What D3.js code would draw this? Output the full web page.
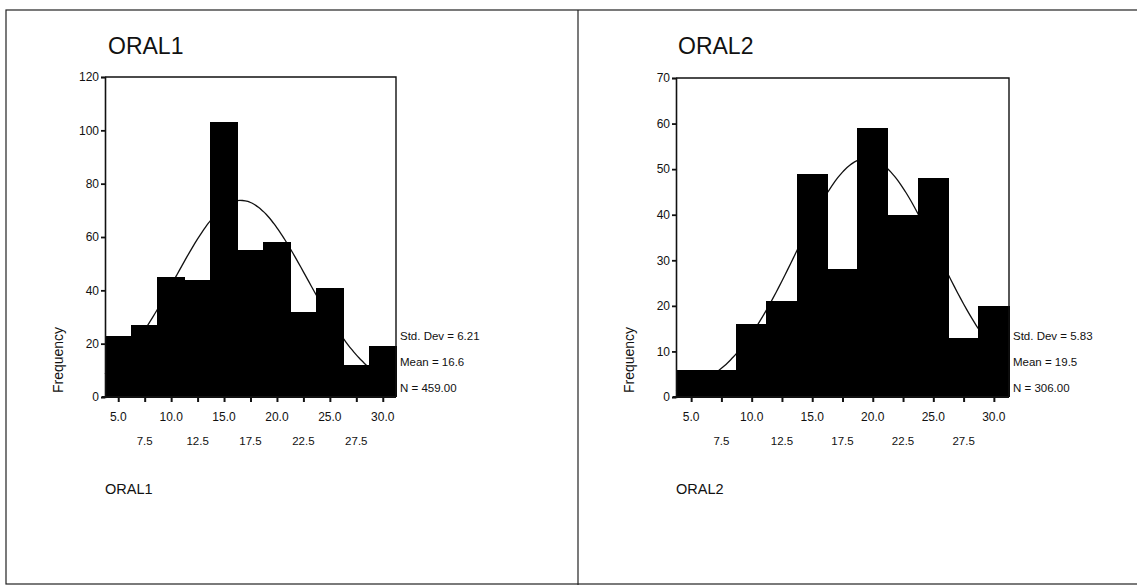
<!DOCTYPE html>
<html>
<head>
<meta charset="utf-8">
<script src="https://cdn.jsdelivr.net/npm/d3@7"></script>
<style>
html,body{margin:0;padding:0;background:#fff;}
svg{display:block;font-family:"Liberation Sans",Arial,sans-serif;}
</style>
</head>
<body>
<svg id="chart" width="1137" height="585"></svg>
<script>
// ---- data ----
const binMids = [5.0, 7.5, 10.0, 12.5, 15.0, 17.5, 20.0, 22.5, 25.0, 27.5, 30.0];
const binWidth = 2.5;
const oral1Counts = [23, 27, 45, 44, 103, 55, 58, 32, 41, 12, 19];
const oral2Counts = [6, 6, 16, 21, 49, 28, 59, 40, 48, 13, 20];
const oral1Stats = {sd: 6.21, mean: 16.6, n: 459};
const oral2Stats = {sd: 5.83, mean: 19.5, n: 306};
const oral1StatText = ["Std. Dev = 6.21", "Mean = 16.6", "N = 459.00"];
const oral2StatText = ["Std. Dev = 5.83", "Mean = 19.5", "N = 306.00"];
const oral1YTicks = [0, 20, 40, 60, 80, 100, 120];
const oral2YTicks = [0, 10, 20, 30, 40, 50, 60, 70];
const xTicksRow1 = [5.0, 10.0, 15.0, 20.0, 25.0, 30.0];
const xTicksRow2 = [7.5, 12.5, 17.5, 22.5, 27.5];
const titles = ["ORAL1", "ORAL2"];

const svg = d3.select("#chart");

// panel frames
svg.append("rect").attr("x", 6).attr("y", 10).attr("width", 1200).attr("height", 574)
  .attr("fill", "none").attr("stroke", "#222").attr("stroke-width", 1.2);
svg.append("line").attr("x1", 578).attr("x2", 578).attr("y1", 10).attr("y2", 585)
  .attr("stroke", "#222").attr("stroke-width", 1.2);

function panel(cfg) {
  const g = svg.append("g");
  const x = d3.scaleLinear().domain([binMids[0] - binWidth / 2, binMids[binMids.length - 1] + binWidth / 2])
    .range([cfg.left, cfg.right]);
  const y = d3.scaleLinear().domain([0, cfg.ymax]).range([cfg.bottom, cfg.top]);

  // title
  g.append("text").attr("x", cfg.titleX).attr("y", 54).attr("font-size", 23)
    .attr("fill", "#111").text(cfg.title);

  // normal curve from displayed stats
  const xs = d3.range(x.domain()[0], x.domain()[1] + 0.001, 0.25);
  const st = cfg.stats;
  const f = v => st.n * binWidth / (st.sd * Math.sqrt(2 * Math.PI)) * Math.exp(-((v - st.mean) ** 2) / (2 * st.sd * st.sd));
  g.append("path").datum(xs)
    .attr("d", d3.line().x(d => x(d)).y(d => y(f(d))).curve(d3.curveMonotoneX))
    .attr("fill", "none").attr("stroke", "#111").attr("stroke-width", 1.3);

  // bars
  g.selectAll("rect.bar").data(binMids).join("rect")
    .attr("x", d => x(d - binWidth / 2) - 0.5)
    .attr("width", d => x(d + binWidth / 2) - x(d - binWidth / 2) + 1)
    .attr("y", (d, i) => y(cfg.counts[i]))
    .attr("height", (d, i) => y(0) - y(cfg.counts[i]))
    .attr("fill", "#000").attr("shape-rendering", "crispEdges");

  // frame top/right
  g.append("path")
    .attr("d", `M${cfg.left},${cfg.top}H${cfg.right}V${cfg.bottom}`)
    .attr("fill", "none").attr("stroke", "#111").attr("stroke-width", 1.4);

  // y axis
  const ya = g.append("g").attr("transform", `translate(${cfg.left},0)`)
    .call(d3.axisLeft(y).tickValues(cfg.yTicks).tickSize(4).tickPadding(2).tickFormat(d3.format("d")));
  ya.select(".domain").attr("stroke", "#111").attr("stroke-width", 1.6);
  ya.selectAll(".tick line").attr("stroke", "#111").attr("stroke-width", 1.8);
  ya.selectAll(".tick text").attr("font-size", 12).attr("fill", "#111")
    .attr("font-family", '"Liberation Sans",Arial,sans-serif');

  // x axis (ticks at all bin mids)
  const xa = g.append("g").attr("transform", `translate(0,${cfg.bottom})`)
    .call(d3.axisBottom(x).tickValues(binMids).tickSize(5).tickFormat(""));
  xa.select(".domain").attr("stroke", "#111").attr("stroke-width", 1.8).attr("d", `M${cfg.left - 3},0H${cfg.right}`);
  xa.selectAll(".tick line").attr("stroke", "#111").attr("stroke-width", 2);

  g.selectAll("text.r1").data(xTicksRow1).join("text")
    .attr("x", d => x(d)).attr("y", cfg.bottom + 24).attr("text-anchor", "middle")
    .attr("font-size", 12).attr("fill", "#111").text(d => d3.format(".1f")(d));
  g.selectAll("text.r2").data(xTicksRow2).join("text")
    .attr("x", d => x(d)).attr("y", cfg.bottom + 48).attr("text-anchor", "middle")
    .attr("font-size", 11.5).attr("fill", "#111").text(d => d3.format(".1f")(d));

  // Frequency label
  g.append("text").attr("transform", `translate(${cfg.left - 42},360) rotate(-90)`)
    .attr("text-anchor", "middle").attr("font-size", 14).attr("fill", "#111").text("Frequency");

  // stats
  g.selectAll("text.st").data(cfg.statText).join("text")
    .attr("x", cfg.right + 4).attr("y", (d, i) => 340 + i * 26)
    .attr("font-size", 11.5).attr("fill", "#111").text(d => d);

  // bottom variable label
  g.append("text").attr("x", cfg.left).attr("y", 494).attr("font-size", 14.5)
    .attr("fill", "#111").text(cfg.title);
}

panel({title: titles[0], titleX: 108, left: 105, right: 396, top: 77, bottom: 397, ymax: 120,
  counts: oral1Counts, stats: oral1Stats, statText: oral1StatText, yTicks: oral1YTicks});
panel({title: titles[1], titleX: 678, left: 676, right: 1009, top: 78, bottom: 397, ymax: 70,
  counts: oral2Counts, stats: oral2Stats, statText: oral2StatText, yTicks: oral2YTicks});
</script>
</body>
</html>
